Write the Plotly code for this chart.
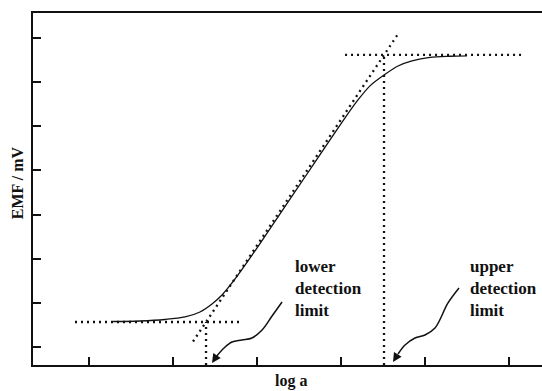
import plotly.graph_objects as go

# ---- data (log a, EMF / mV) ----
curve_x = [-5.714, -5.393, -5.095, -4.857, -4.679, -4.536, -4.417, -4.298, -4.024,
           -3.726, -3.429, -3.131, -2.952, -2.798, -2.655, -2.488, -2.321, -2.155,
           -1.940, -1.702, -1.500]
curve_y = [11.55, 11.78, 12.46, 13.59, 15.86, 19.48, 23.56, 29.0, 43.5,
           60.3, 77.0, 93.8, 103.8, 111.9, 118.3, 123.2, 127.3, 129.6,
           131.2, 131.7, 131.9]

lower_base_x = [-6.167, -4.167]
lower_base_y = [11.33, 11.33]
upper_base_x = [-2.952, -0.857]
upper_base_y = [132.3, 132.3]
tangent_x = [-4.762, -2.321]
tangent_y = [2.49, 141.8]
lower_limit_x = [-4.607, -4.607]
upper_limit_x = [-2.488, -2.488]
lower_limit_y = [-8.16, 11.33]
upper_limit_y = [-8.16, 132.3]

lower_arrow_x = [-3.702, -3.821, -3.940, -4.060, -4.179, -4.298, -4.393, -4.488, -4.536]
lower_arrow_y = [20.39, 14.05, 7.70, 4.08, 3.17, 2.27, -0.45, -4.53, -7.25]
upper_arrow_x = [-1.595, -1.726, -1.881, -2.000, -2.119, -2.238, -2.321, -2.381]
upper_arrow_y = [26.73, 19.94, 8.61, 5.44, 4.08, 0.91, -3.17, -6.80]

x_ticks = [-6, -5, -4, -3, -2, -1]
y_ticks = [0, 20, 40, 60, 80, 100, 120, 140]
x_range = [-6.667, -0.607]
y_range = [-8.16, 151.3]

INK = "#111111"
FONT = "Liberation Serif, Times New Roman, serif"

fig = go.Figure()
dot = dict(color=INK, width=2.3, dash="2px,4px")

fig.add_trace(go.Scatter(x=lower_base_x, y=lower_base_y, mode="lines", line=dot))
fig.add_trace(go.Scatter(x=upper_base_x, y=upper_base_y, mode="lines", line=dot))
fig.add_trace(go.Scatter(x=tangent_x, y=tangent_y, mode="lines", line=dot))
fig.add_trace(go.Scatter(x=lower_limit_x, y=lower_limit_y, mode="lines", line=dot))
fig.add_trace(go.Scatter(x=upper_limit_x, y=upper_limit_y, mode="lines", line=dot))
fig.add_trace(go.Scatter(x=curve_x, y=curve_y, mode="lines",
                         line=dict(color=INK, width=1.3, shape="spline", smoothing=0.8)))
for ax_, ay_ in [(lower_arrow_x, lower_arrow_y), (upper_arrow_x, upper_arrow_y)]:
    fig.add_trace(go.Scatter(x=ax_[:-1], y=ay_[:-1], mode="lines",
                             line=dict(color=INK, width=1.5, shape="spline", smoothing=1.0)))
    fig.add_annotation(x=ax_[-1], y=ay_[-1], ax=ax_[-2], ay=ay_[-2],
                       xref="x", yref="y", axref="x", ayref="y", text="",
                       showarrow=True, arrowhead=2, arrowsize=1.2, arrowwidth=1.5,
                       arrowcolor=INK, standoff=0)

label_font = dict(family=FONT, size=17, color=INK)
fig.add_annotation(x=-3.571, y=26.28, xref="x", yref="y", xanchor="left", yanchor="middle",
                   text="<b>lower</b><br><b>detection</b><br><b>limit</b>", align="left",
                   showarrow=False, font=label_font)
fig.add_annotation(x=-1.488, y=26.28, xref="x", yref="y", xanchor="left", yanchor="middle",
                   text="<b>upper</b><br><b>detection</b><br><b>limit</b>", align="left",
                   showarrow=False, font=label_font)
fig.add_annotation(x=0.507, y=-0.045, xref="paper", yref="paper", xanchor="center",
                   yanchor="middle", text="<b>log a</b>", showarrow=False,
                   font=dict(family=FONT, size=16, color=INK))
fig.add_annotation(x=-0.031, y=0.517, xref="paper", yref="paper", xanchor="center",
                   yanchor="middle", text="<b>EMF / mV</b>", textangle=-90, showarrow=False,
                   font=dict(family=FONT, size=16, color=INK))

fig.update_layout(
    width=542, height=391,
    margin=dict(l=33, r=0, t=13, b=26),
    paper_bgcolor="white", plot_bgcolor="white",
    showlegend=False,
    xaxis=dict(range=x_range, tickvals=x_ticks, showticklabels=False, ticks="inside",
               ticklen=8, tickwidth=1.5, tickcolor=INK, showline=True, linecolor=INK,
               linewidth=1.6, mirror=True, showgrid=False, zeroline=False, fixedrange=True),
    yaxis=dict(range=y_range, tickvals=y_ticks, showticklabels=False, ticks="inside",
               ticklen=8, tickwidth=1.5, tickcolor=INK, showline=True, linecolor=INK,
               linewidth=1.8, mirror=False, showgrid=False, zeroline=False, fixedrange=True),
)

fig.write_html("out.html")
